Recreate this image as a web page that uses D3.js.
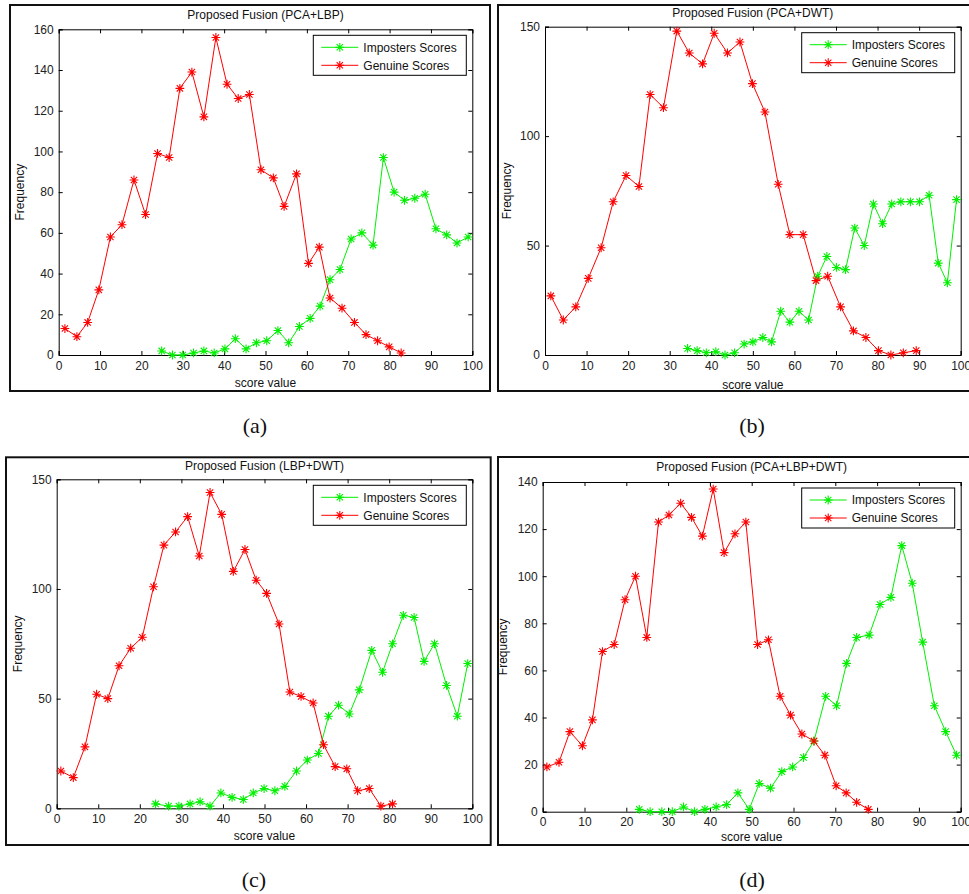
<!DOCTYPE html>
<html>
<head>
<meta charset="utf-8">
<script src="https://cdn.jsdelivr.net/npm/d3@7/dist/d3.min.js"></script>
<style>
  html, body { margin: 0; padding: 0; background: #fff; }
  svg { display: block; }
</style>
</head>
<body>
<svg id="chart" width="969" height="894"></svg>
<script>
// ---------- data ----------
const titles = ["Proposed Fusion (PCA+LBP)", "Proposed Fusion (PCA+DWT)", "Proposed Fusion (LBP+DWT)", "Proposed Fusion (PCA+LBP+DWT)"];
const captions = ["(a)", "(b)", "(c)", "(d)"];
const seriesNames = ["Imposters Scores", "Genuine Scores"];
const xTicks = [0, 10, 20, 30, 40, 50, 60, 70, 80, 90, 100];
const yTicksA = [0, 20, 40, 60, 80, 100, 120, 140, 160];
const yTicksB = [0, 50, 100, 150];
const yTicksC = [0, 50, 100, 150];
const yTicksD = [0, 20, 40, 60, 80, 100, 120, 140];

// (a) PCA+LBP
const aGenX = [1.5, 4.4, 7.0, 9.7, 12.5, 15.3, 18.2, 21.0, 23.9, 26.7, 29.3, 32.2, 35.1, 38.0, 40.7, 43.4, 46.1, 48.9, 51.9, 54.5, 57.5, 60.4, 63.0, 65.6, 68.5, 71.5, 74.3, 77.1, 79.9, 82.8];
const aGenY = [13, 9, 16, 32, 58, 64, 86, 69, 99, 97, 131, 139, 117, 156, 133, 126, 128, 91, 87, 73, 89, 45, 53, 28, 23, 16, 10, 7, 4, 1];
const aImpX = [24.9, 27.5, 30.0, 32.6, 35.1, 37.6, 40.2, 42.7, 45.3, 47.8, 50.3, 53.0, 55.6, 58.2, 60.8, 63.2, 65.6, 68.0, 70.7, 73.3, 76.0, 78.5, 81.1, 83.6, 86.1, 88.6, 91.2, 93.8, 96.3, 99.0];
const aImpY = [2, 0, 0, 1, 2, 1, 3, 8, 3, 6, 7, 12, 6, 14, 18, 24, 37, 42, 57, 60, 54, 97, 80, 76, 77, 79, 62, 59, 55, 58];

// (b) PCA+DWT
const bGenX = [1.4, 4.4, 7.4, 10.4, 13.5, 16.4, 19.5, 22.6, 25.3, 28.5, 31.7, 34.7, 37.9, 40.7, 43.9, 46.9, 49.9, 52.9, 56.1, 58.9, 62.1, 65.2, 68.0, 71.1, 74.2, 77.2, 80.2, 83.2, 86.2, 89.3];
const bGenY = [27, 16, 22, 35, 49, 70, 82, 77, 119, 113, 148, 138, 133, 147, 138, 143, 124, 111, 78, 55, 55, 34, 36, 22, 11, 8, 2, 0, 1, 2];
const bImpX = [34.3, 36.6, 38.8, 41.1, 43.3, 45.6, 47.9, 50.0, 52.4, 54.5, 56.7, 58.9, 61.1, 63.4, 65.6, 67.8, 70.1, 72.3, 74.5, 76.8, 79.0, 81.2, 83.4, 85.6, 87.9, 90.1, 92.4, 94.6, 96.8, 99.0];
const bImpY = [3, 2, 1, 1.5, 0, 1, 5, 6, 8, 6, 20, 15, 20, 16, 36, 45, 40, 39, 58, 50, 69, 60, 69, 70, 70, 70, 73, 42, 33, 71];

// (c) LBP+DWT
const cGenX = [1.0, 4.0, 6.8, 9.6, 12.3, 15.0, 17.8, 20.6, 23.3, 25.8, 28.6, 31.5, 34.3, 36.9, 39.7, 42.5, 45.3, 48.0, 50.5, 53.5, 56.1, 58.8, 61.7, 64.2, 67.0, 69.8, 72.4, 75.2, 78.0, 80.8];
const cGenY = [17, 14, 28, 52, 50, 65, 73, 78, 101, 120, 126, 133, 115, 144, 134, 108, 118, 104, 98, 84, 53, 51, 48, 29, 19, 18, 8, 9, 1, 2];
const cImpX = [23.8, 26.9, 29.4, 32.1, 34.5, 36.9, 39.5, 42.2, 44.9, 47.3, 49.9, 52.5, 54.9, 57.7, 60.3, 63.0, 65.4, 67.8, 70.4, 72.8, 75.8, 78.4, 80.8, 83.4, 86.0, 88.4, 90.9, 93.8, 96.4, 98.9];
const cImpY = [2, 1, 1, 2, 3, 1, 7, 5, 4, 7, 9, 8, 10, 17, 22, 25, 42, 47, 43, 54, 72, 62, 75, 88, 87, 67, 75, 56, 42, 66];

// (d) PCA+LBP+DWT
const dGenX = [1.0, 3.9, 6.5, 9.5, 11.9, 14.3, 17.1, 19.7, 22.2, 24.9, 27.7, 30.2, 33.0, 35.6, 38.2, 40.8, 43.4, 46.0, 48.6, 51.4, 54.0, 56.8, 59.3, 62.0, 64.9, 67.5, 70.2, 72.6, 75.1, 77.9];
const dGenY = [19, 21, 34, 28, 39, 68, 71, 90, 100, 74, 123, 126, 131, 125, 117, 137, 110, 118, 123, 71, 73, 49, 41, 33, 30, 24, 11, 8, 4, 1];
const dImpX = [23.1, 25.7, 28.5, 31.0, 33.7, 36.3, 38.8, 41.5, 44.0, 46.7, 49.4, 51.8, 54.5, 57.2, 59.8, 62.4, 64.9, 67.7, 70.3, 72.7, 75.1, 78.1, 80.7, 83.3, 85.9, 88.4, 90.9, 93.7, 96.4, 99.0];
const dImpY = [1, 0, 0, 0, 2, 0, 1, 2, 3, 8, 1, 12, 10, 17, 19, 23, 30, 49, 45, 63, 74, 75, 88, 91, 113, 97, 72, 45, 34, 24];

// ---------- layout ----------
const panels = [
  { frame: [10, 5, 490, 391],   plot: [58.7, 29.3, 472.3, 355],   yMax: 160, yTicks: yTicksA, gx: aGenX, gy: aGenY, ix: aImpX, iy: aImpY,
    titleY: 19, ylabX: 20, xlabY: 387, capX: 255, capY: 433 },
  { frame: [498, 5, 980, 391],  plot: [545, 26.7, 960.7, 355],    yMax: 150, yTicks: yTicksB, gx: bGenX, gy: bGenY, ix: bImpX, iy: bImpY,
    titleY: 17, ylabX: 507, xlabY: 389, capX: 752, capY: 433 },
  { frame: [6, 457.3, 490.7, 845], plot: [56.7, 479.3, 472.3, 808.3], yMax: 150, yTicks: yTicksC, gx: cGenX, gy: cGenY, ix: cImpX, iy: cImpY,
    titleY: 470, ylabX: 18, xlabY: 840, capX: 254, capY: 887 },
  { frame: [498, 457, 980, 845], plot: [542.7, 482, 960.7, 811.7],  yMax: 140, yTicks: yTicksD, gx: dGenX, gy: dGenY, ix: dImpX, iy: dImpY,
    titleY: 471, ylabX: 503, xlabY: 841, capX: 752, capY: 887 }
];

const GREEN = "#00f000";
const RED = "#ff0000";
const font = "Liberation Sans, Arial, sans-serif";
const svg = d3.select("#chart");

function star(g, x, y, color) {
  const r = 4.4, d = r * 0.72;
  const p = `M${x - r},${y}L${x + r},${y}M${x},${y - r}L${x},${y + r}M${x - d},${y - d}L${x + d},${y + d}M${x - d},${y + d}L${x + d},${y - d}`;
  g.append("path").attr("d", p).attr("stroke", color).attr("stroke-width", 1.1).attr("fill", "none");
}

panels.forEach((p, i) => {
  const g = svg.append("g");
  const [fx0, fy0, fx1, fy1] = p.frame;
  g.append("rect").attr("x", fx0).attr("y", fy0).attr("width", fx1 - fx0).attr("height", fy1 - fy0)
    .attr("fill", "none").attr("stroke", "#111").attr("stroke-width", 2);

  const [px0, py0, px1, py1] = p.plot;
  const x = d3.scaleLinear().domain([0, 100]).range([px0, px1]);
  const y = d3.scaleLinear().domain([0, p.yMax]).range([py1, py0]);

  // axes (MATLAB style: ticks inward on all sides)
  const tl = 4;
  const bottom = g.append("g").attr("transform", `translate(0,${py1})`)
    .call(d3.axisBottom(x).tickValues(xTicks).tickSize(-tl).tickPadding(6).tickFormat(d3.format("d")));
  const top = g.append("g").attr("transform", `translate(0,${py0})`)
    .call(d3.axisTop(x).tickValues(xTicks).tickSize(-tl).tickFormat(""));
  const left = g.append("g").attr("transform", `translate(${px0},0)`)
    .call(d3.axisLeft(y).tickValues(p.yTicks).tickSize(-tl).tickPadding(5).tickFormat(d3.format("d")));
  const right = g.append("g").attr("transform", `translate(${px1},0)`)
    .call(d3.axisRight(y).tickValues(p.yTicks).tickSize(-tl).tickFormat(""));
  [bottom, top, left, right].forEach(a => {
    a.select(".domain").attr("stroke", "#000").attr("stroke-width", 1);
    a.selectAll(".tick line").attr("stroke", "#000");
    a.selectAll("text").attr("fill", "#222").style("font-family", font).style("font-size", "12px");
  });

  // series
  const line = d3.line().x(d => x(d[0])).y(d => y(d[1]));
  const imp = p.ix.map((v, k) => [v, p.iy[k]]);
  const gen = p.gx.map((v, k) => [v, p.gy[k]]);
  const clipId = "clip" + i;
  g.append("clipPath").attr("id", clipId).append("rect")
    .attr("x", px0 - 6).attr("y", py0 - 6).attr("width", px1 - px0 + 12).attr("height", py1 - py0 + 12);
  const data = g.append("g").attr("clip-path", `url(#${clipId})`);
  data.append("path").datum(imp).attr("d", line).attr("fill", "none").attr("stroke", GREEN).attr("stroke-width", 1);
  data.append("path").datum(gen).attr("d", line).attr("fill", "none").attr("stroke", RED).attr("stroke-width", 1);
  imp.forEach(d => star(data, x(d[0]), y(d[1]), GREEN));
  gen.forEach(d => star(data, x(d[0]), y(d[1]), RED));

  // title and labels
  g.append("text").attr("x", (px0 + px1) / 2).attr("y", p.titleY).attr("text-anchor", "middle")
    .style("font-family", font).style("font-size", "12px").attr("fill", "#111").text(titles[i]);
  g.append("text").attr("transform", `translate(${p.ylabX},${(py0 + py1) / 2}) rotate(-90)`)
    .attr("text-anchor", "middle").attr("dy", "0.35em")
    .style("font-family", font).style("font-size", "12px").attr("fill", "#111").text("Frequency");
  g.append("text").attr("x", (px0 + px1) / 2).attr("y", p.xlabY).attr("text-anchor", "middle")
    .style("font-family", font).style("font-size", "12px").attr("fill", "#111").text("score value");

  // legend
  const lw = 153, lh = 40;
  const lx = px1 - 6 - lw, ly = py0 + 6;
  const leg = g.append("g");
  leg.append("rect").attr("x", lx).attr("y", ly).attr("width", lw).attr("height", lh)
    .attr("fill", "#fff").attr("stroke", "#000").attr("stroke-width", 1);
  [GREEN, RED].forEach((c, k) => {
    const yy = ly + 12 + k * 18;
    leg.append("line").attr("x1", lx + 8).attr("x2", lx + 45).attr("y1", yy).attr("y2", yy)
      .attr("stroke", c).attr("stroke-width", 1);
    star(leg, lx + 26.5, yy, c);
    leg.append("text").attr("x", lx + 50).attr("y", yy).attr("dy", "0.36em")
      .style("font-family", font).style("font-size", "12px").attr("fill", "#111").text(seriesNames[k]);
  });

  // caption
  svg.append("text").attr("x", p.capX).attr("y", p.capY).attr("text-anchor", "middle")
    .style("font-family", "Liberation Serif, Times New Roman, serif").style("font-size", "22px")
    .attr("fill", "#111").text(captions[i]);
});
</script>
</body>
</html>
